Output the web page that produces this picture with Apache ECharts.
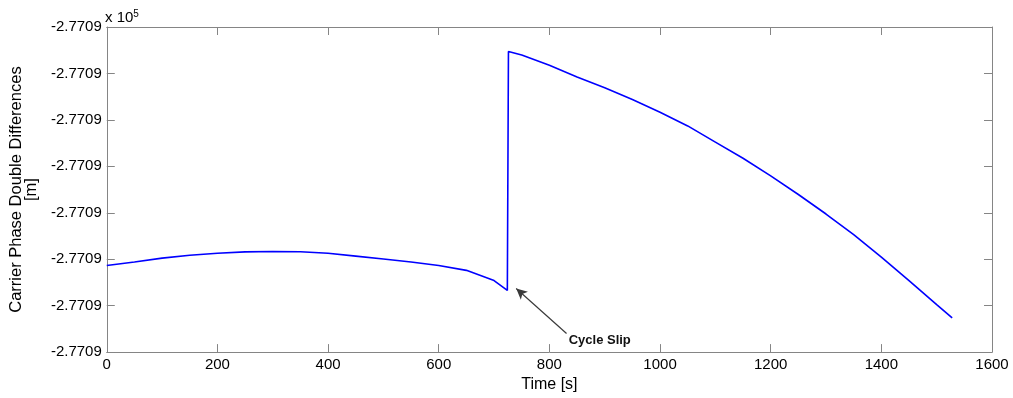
<!DOCTYPE html>
<html><head><meta charset="utf-8">
<script src="https://cdn.jsdelivr.net/npm/echarts@6/dist/echarts.min.js"></script>
<style>html,body{margin:0;padding:0;background:#fff}#c{width:1013px;height:398px}</style>
</head><body><div id="c"></div>
<script>
// Time [s]
const timeS = [0, 50, 100, 150, 200, 250, 300, 350, 400, 450, 500, 550, 600, 650, 700, 724,
  726, 750, 800, 850, 900, 950, 1000, 1050, 1100, 1150, 1200, 1250, 1300, 1350, 1400, 1450, 1500, 1528];
// Carrier phase double differences [m]
const phaseM = [-277091.134, -277091.060, -277090.976, -277090.913, -277090.871, -277090.843, -277090.835, -277090.839,
  -277090.871, -277090.934, -277090.997, -277091.060, -277091.134, -277091.240, -277091.461, -277091.672,
  -277086.527, -277086.601, -277086.822, -277087.075, -277087.307, -277087.560, -277087.834, -277088.130,
  -277088.478, -277088.825, -277089.205, -277089.606, -277090.027, -277090.470, -277090.955, -277091.461,
  -277091.977, -277092.262];
// axis ranges / ticks
const xTicks = [0, 200, 400, 600, 800, 1000, 1200, 1400, 1600];
const yRange = [-277093, -277086];
const yStep = 1;
// annotation
const slipLabel = 'Cycle Slip';
const slipArrowFrom = [831, -277092.599];
const slipArrowTo = [740, -277091.630];
const slipTextAt = [891, -277092.747];

const gray = '#858585';
const font = 'Liberation Sans, Arial, Helvetica, sans-serif';
const chart = echarts.init(document.getElementById('c'), null, {renderer: 'canvas'});
const tick = {show: true, inside: true, length: 8, lineStyle: {color: gray, width: 1}};
const line = {show: true, onZero: false, lineStyle: {color: gray, width: 1}};
const xMin = xTicks[0], xMax = xTicks[xTicks.length - 1], xInt = xTicks[1] - xTicks[0];
chart.setOption({
  animation: false,
  grid: {left: 105, right: 21, top: 27, bottom: 39, containLabel: false},
  xAxis: [{
    type: 'value', min: xMin, max: xMax, interval: xInt, position: 'bottom',
    axisLine: line, axisTick: tick, splitLine: {show: false},
    axisLabel: {color: '#000', fontSize: 15, fontFamily: font, margin: 5, formatter: v => String(v)},
    name: 'Time [s]', nameLocation: 'middle', nameGap: 19,
    nameTextStyle: {color: '#000', fontSize: 16, fontFamily: font}
  }, {
    type: 'value', min: xMin, max: xMax, interval: xInt, position: 'top',
    axisLine: line, axisTick: tick, splitLine: {show: false}, axisLabel: {show: false}
  }],
  yAxis: [{
    type: 'value', min: yRange[0], max: yRange[1], interval: yStep, position: 'left',
    axisLine: line, axisTick: tick, splitLine: {show: false},
    axisLabel: {color: '#000', fontSize: 15, fontFamily: font, margin: 5,
      formatter: v => (v / 1e5).toFixed(4)},
    name: 'Carrier Phase Double Differences\n[m]', nameLocation: 'middle', nameGap: 66, nameRotate: 90,
    nameTextStyle: {color: '#000', fontSize: 16.5, fontFamily: font, lineHeight: 15}
  }, {
    type: 'value', min: yRange[0], max: yRange[1], interval: yStep, position: 'right',
    axisLine: line, axisTick: tick, splitLine: {show: false}, axisLabel: {show: false}
  }],
  graphic: [{
    type: 'text', left: 105, top: 9,
    style: {
      text: 'x 10{s|5}', fill: '#000', font: '15px ' + font,
      rich: {s: {fontSize: 10, verticalAlign: 'top', padding: [0, 0, 8, 0], fontFamily: font}}
    }
  }],
  series: [{
    type: 'line', xAxisIndex: 0, yAxisIndex: 0,
    data: timeS.map((t, i) => [t, phaseM[i]]),
    showSymbol: false, symbol: 'none',
    lineStyle: {color: '#0000ff', width: 1.6},
    markLine: {
      silent: true, symbol: ['none', 'arrow'], symbolSize: [8, 11],
      lineStyle: {color: '#3a3a3a', width: 1.2, type: 'solid'},
      itemStyle: {color: '#222'},
      label: {show: false},
      data: [[{coord: slipArrowFrom}, {coord: slipArrowTo}]]
    },
    markPoint: {
      silent: true,
      data: [{coord: slipTextAt, symbol: 'rect', symbolSize: 1, itemStyle: {color: 'rgba(0,0,0,0)'},
        label: {show: true, position: 'inside', formatter: slipLabel, color: '#111',
          fontSize: 13, fontWeight: 'bold', fontFamily: font}}]
    }
  }]
});
</script></body></html>
